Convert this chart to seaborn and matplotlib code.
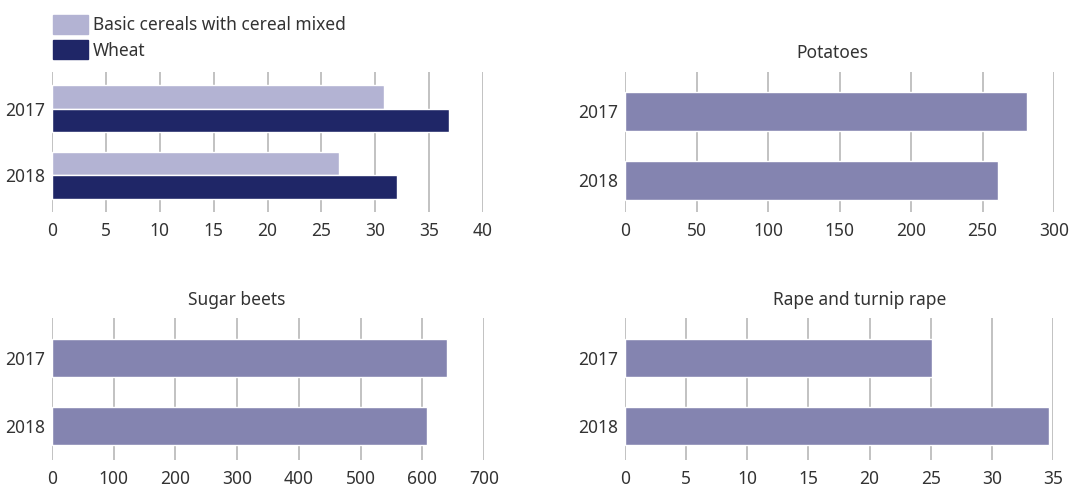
import numpy as np
import pandas as pd
import matplotlib
matplotlib.use("Agg")
import matplotlib.pyplot as plt
import seaborn as sns
from matplotlib.patches import Patch

years = ["2017", "2018"]

cereal_names = ["Basic cereals with cereal mixed", "Wheat"]
basic_cereals = [30.8, 26.6]
wheat = [36.8, 32.0]

potatoes = [281, 261]
sugar_beets = [640, 608]
rape = [25.1, 34.7]

light = "#b3b3d3"
navy = "#1f2667"
medium = "#8484b0"
grid_col = "#b8b8b8"
text_col = "#333333"

sns.set_theme(style="white")
plt.rcParams['font.family'] = ['Noto Sans', 'DejaVu Sans']
plt.rcParams['font.size'] = 12.5

W, H = 1071, 486
fig = plt.figure(figsize=(W / 100, H / 100), dpi=100)


def px_axes(left, right, top, bottom):
    return fig.add_axes([left / W, 1 - bottom / H, (right - left) / W, (bottom - top) / H])


def style(ax, xmax, step, ylim):
    ax.set_xlim(0, xmax)
    ax.set_xticks(np.arange(0, xmax + step / 2, step))
    ax.set_ylim(*ylim)
    for s in ax.spines.values():
        s.set_visible(False)
    ax.grid(axis="x", color=grid_col, linewidth=1.2)
    ax.grid(axis="y", visible=False)
    ax.set_axisbelow(True)
    ax.tick_params(axis="both", length=0, labelsize=12.5, labelcolor=text_col)
    ax.tick_params(axis="x", pad=7)
    ax.tick_params(axis="y", pad=5)
    ax.set_xlabel("")
    ax.set_ylabel("")
    ax.xaxis.set_major_formatter(matplotlib.ticker.FuncFormatter(lambda v, p: f"{v:g}"))


# cereals
df_c = pd.DataFrame({
    "year": years * 2,
    "value": basic_cereals + wheat,
    "kind": [cereal_names[0]] * 2 + [cereal_names[1]] * 2,
})
ax1 = px_axes(52, 483, 72, 212)
sns.barplot(data=df_c, x="value", y="year", hue="kind", orient="h",
            palette=[light, navy], saturation=1, width=0.7, ax=ax1, legend=False)
style(ax1, 40, 5, (1.55, -0.55))

# potatoes
ax2 = px_axes(625, 1054, 72, 212)
sns.barplot(x=potatoes, y=years, orient="h", color=medium, saturation=1,
            width=0.56, ax=ax2)
style(ax2, 300, 50, (1.46, -0.57))

# sugar beets
ax3 = px_axes(52, 484, 318, 460)
sns.barplot(x=sugar_beets, y=years, orient="h", color=medium, saturation=1,
            width=0.56, ax=ax3)
style(ax3, 700, 100, (1.5, -0.59))

# rape
ax4 = px_axes(625, 1053, 318, 460)
sns.barplot(x=rape, y=years, orient="h", color=medium, saturation=1,
            width=0.56, ax=ax4)
style(ax4, 35, 5, (1.5, -0.59))

fig.text(832 / W, 1 - 53 / H, "Potatoes", ha="center", va="center", fontsize=12.5, color=text_col)
fig.text(237 / W, 1 - 300 / H, "Sugar beets", ha="center", va="center", fontsize=12.5, color=text_col)
fig.text(860 / W, 1 - 300 / H, "Rape and turnip rape", ha="center", va="center", fontsize=12.5, color=text_col)

handles = [Patch(facecolor=light, edgecolor=light), Patch(facecolor=navy, edgecolor=navy)]
fig.legend(handles, cereal_names, loc="upper left", bbox_to_anchor=(46 / W, 1 - 8 / H),
           frameon=False, fontsize=12.5, handlelength=2.0, handleheight=1.3,
           handletextpad=0.3, labelspacing=0.35, labelcolor=text_col, borderaxespad=0)

fig.savefig("out.png", dpi=100)
